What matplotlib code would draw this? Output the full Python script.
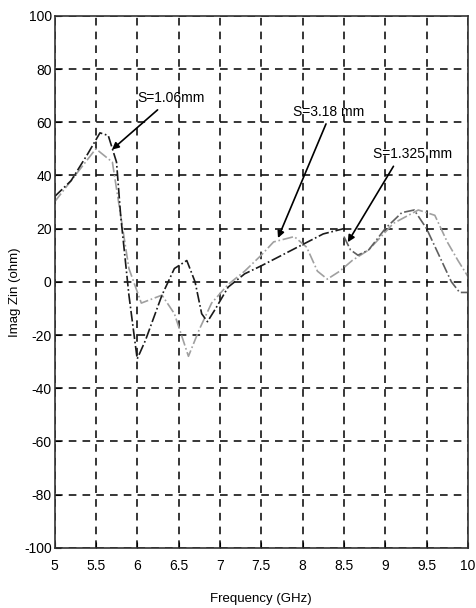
import matplotlib.pyplot as plt
from matplotlib import font_manager

# S = 1.06 mm (darkest trace)
freq_a = [5.0, 5.2, 5.4, 5.55, 5.65, 5.75, 5.8, 5.85, 5.9, 6.0, 6.1, 6.3, 6.45,
          6.6, 6.7, 6.78, 6.85, 6.95, 7.1, 7.3, 7.5, 7.75, 8.0, 8.25, 8.5]
zin_a = [32, 38, 48, 56, 55, 45, 25, 10, -5, -29, -22, -5, 5,
         8, 0, -12, -15, -10, -2, 3, 6, 10, 14, 18, 20]

# S = 3.18 mm (light grey trace)
freq_b = [5.0, 5.3, 5.5, 5.7, 5.9, 6.05, 6.3, 6.45, 6.62, 6.75, 6.9, 7.1, 7.3,
          7.5, 7.65, 7.9, 8.05, 8.18, 8.3, 8.45, 8.6, 8.8, 9.1, 9.4, 9.6, 9.75, 9.88, 10.0]
zin_b = [30, 42, 50, 45, 5, -8, -5, -12, -28, -18, -8, -1, 4,
         10, 15, 17, 13, 4, 1, 4, 8, 12, 22, 27, 25, 15, 8, 2]

# S = 1.325 mm (mid grey trace)
freq_c = [8.5, 8.58, 8.67, 8.8, 9.0, 9.2, 9.35, 9.5, 9.65, 9.8, 9.9, 10.0]
zin_c = [17, 12, 10, 12, 20, 26, 27, 20, 10, 0, -4, -4]

xticks = [5, 5.5, 6, 6.5, 7, 7.5, 8, 8.5, 9, 9.5, 10]
xtick_labels = ['5', '5.5', '6', '6.5', '7', '7.5', '8', '8.5', '9', '9.5', '10']
yticks = list(range(-100, 101, 20))

names = {f.name for f in font_manager.fontManager.ttflist}
fam = 'Liberation Sans Narrow' if 'Liberation Sans Narrow' in names else 'Liberation Sans'
plt.rcParams['font.family'] = [fam, 'DejaVu Sans']
plt.rcParams['axes.unicode_minus'] = False

fig = plt.figure(figsize=(4.76, 6.08), dpi=100)
ax = fig.add_axes([0.1145, 0.099, 0.8685, 0.875])

ax.plot(freq_b, zin_b, color='#a0a0a0', lw=1.2, ls='-.')
ax.plot(freq_c, zin_c, color='#606060', lw=1.2, ls='-.')
ax.plot(freq_a, zin_a, color='#1a1a1a', lw=1.2, ls='-.')

ax.set_xlim(5, 10)
ax.set_ylim(-100, 100)
ax.set_xticks(xticks)
ax.set_xticklabels(xtick_labels)
ax.set_yticks(yticks)
ax.grid(True, color='black', ls=(0, (5, 4)), lw=1.1)
ax.tick_params(direction='in', labelsize=10, length=4)
ax.tick_params(axis='x', pad=8)
ax.tick_params(axis='y', pad=2)
for s in ax.spines.values():
    s.set_color('#333333')
    s.set_linewidth(1.2)

ax.set_xlabel('Frequency (GHz)', fontsize=9.5)
ax.set_ylabel('Imag Zin (ohm)', fontsize=9.5)
ax.xaxis.set_label_coords(0.5, -0.085)
ax.yaxis.set_label_coords(-0.08, 0.48)

arrow = dict(arrowstyle='-|>', color='black', lw=1.2, mutation_scale=10)
ax.annotate('S=1.06mm', xy=(5.67, 49), xytext=(6.0, 69), fontsize=10,
            va='center', ha='left', arrowprops=arrow)
ax.annotate('S=3.18 mm', xy=(7.69, 15.5), xytext=(7.88, 64), fontsize=10,
            va='center', ha='left', arrowprops=dict(arrow, relpos=(0.5, 0)))
ax.annotate('S=1.325 mm', xy=(8.53, 14), xytext=(8.85, 48), fontsize=10,
            va='center', ha='left', arrowprops=dict(arrow, relpos=(0.3, 0)))

fig.savefig('out.png', dpi=100)
